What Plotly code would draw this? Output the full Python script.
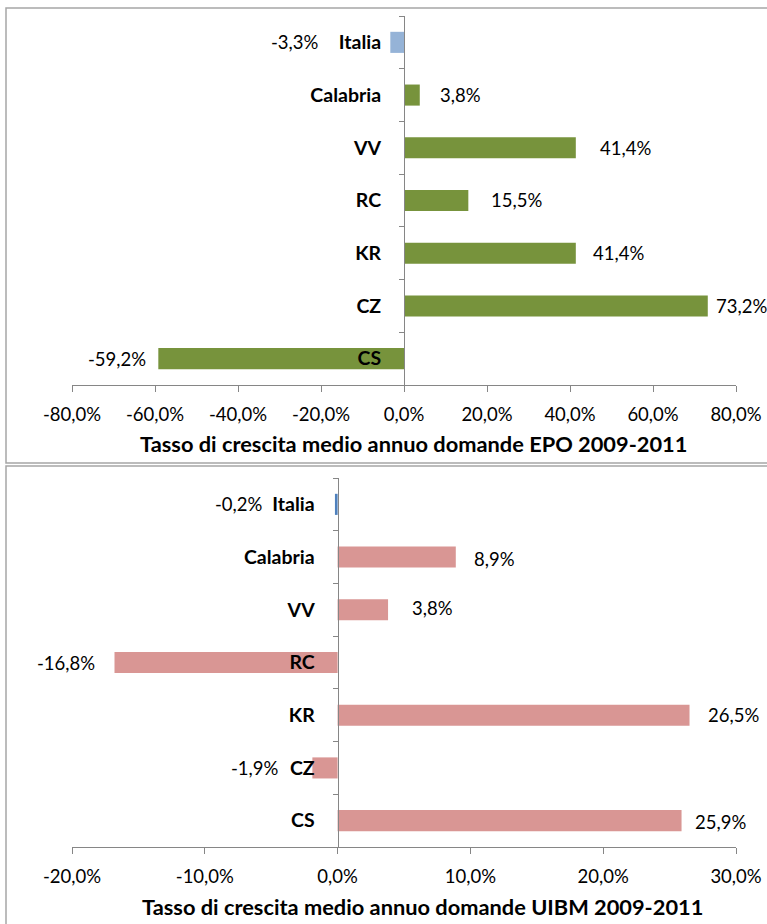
import plotly.graph_objects as go

# ---------------- data ----------------
categories = ["Italia", "Calabria", "VV", "RC", "KR", "CZ", "CS"]
epo_values = [-3.3, 3.8, 41.4, 15.5, 41.4, 73.2, -59.2]
uibm_values = [-0.2, 8.9, 3.8, -16.8, 26.5, -1.9, 25.9]

epo_tickvals = [-80, -60, -40, -20, 0, 20, 40, 60, 80]
epo_ticktext = ["-80,0%", "-60,0%", "-40,0%", "-20,0%", "0,0%", "20,0%", "40,0%", "60,0%", "80,0%"]
uibm_tickvals = [-20, -10, 0, 10, 20, 30]
uibm_ticktext = ["-20,0%", "-10,0%", "0,0%", "10,0%", "20,0%", "30,0%"]

epo_title = "Tasso di crescita medio annuo domande EPO 2009-2011"
uibm_title = "Tasso di crescita medio annuo domande UIBM 2009-2011"

# ---------------- style ----------------
W, H = 767, 924
FONT = "Lato"
GREEN = "#77933C"
PINK = "#D99694"
BLUE_TOP = "#95B3D7"
BLUE_BOT = "#4F81BD"
AXIS = "#868686"
FRAME = "#A6A6A6"

# per-label horizontal offsets (px) mimicking the manually placed labels
epo_shift = [-69, 18, 22, 21, 15, 6, -10]
uibm_shift = [-70, 16, 22, -18, 16, -31, 11]
uibm_yshift = [0, -2, 2, 0, 0, 0, -1]


def px(x):
    return x / W


def py(y):
    return 1 - y / H


def fmt(v):
    return f"{v:.1f}".replace(".", ",") + "%"


x_dom = [px(72), px(736)]
top_dom = [py(385), py(16)]
bot_dom = [py(847), py(478)]
top_range = [-80, 80]
bot_range = [-20, 30]


def zero_pos(rng):
    return x_dom[0] + (0 - rng[0]) / (rng[1] - rng[0]) * (x_dom[1] - x_dom[0])


fig = go.Figure()

fig.add_trace(go.Bar(
    x=epo_values, y=categories, orientation="h",
    marker=dict(color=[BLUE_TOP] + [GREEN] * (len(categories) - 1), line=dict(width=0)),
    xaxis="x", yaxis="y", showlegend=False, hoverinfo="skip",
))
fig.add_trace(go.Bar(
    x=uibm_values, y=categories, orientation="h",
    marker=dict(color=[BLUE_BOT] + [PINK] * (len(categories) - 1), line=dict(width=0)),
    xaxis="x2", yaxis="y2", showlegend=False, hoverinfo="skip",
))

tickfont = dict(family=FONT, size=18.5, color="#000000")

common_x = dict(
    showgrid=False, zeroline=False, showline=True, linecolor=AXIS, linewidth=1,
    ticks="outside", ticklen=6, tickcolor=AXIS, tickfont=tickfont,
    ticklabelstandoff=7, fixedrange=True, automargin=False,
)
common_y = dict(
    type="category", categoryorder="array", categoryarray=categories,
    range=[len(categories) - 0.5, -0.5],
    showgrid=False, zeroline=False, showline=True, linecolor=AXIS, linewidth=1,
    ticks="outside", ticklen=5, tickcolor=AXIS, tickson="boundaries",
    tickfont=dict(family=FONT, size=19.5, color="#000000", weight="bold"),
    ticklabelstandoff=19, fixedrange=True, automargin=False,
)

fig.update_layout(
    template="none",
    width=W, height=H,
    margin=dict(l=0, r=0, t=0, b=0, autoexpand=False),
    paper_bgcolor="white", plot_bgcolor="rgba(0,0,0,0)",
    bargap=0.6,
    font=dict(family=FONT, color="#000000"),
    xaxis=dict(domain=x_dom, range=top_range, anchor="y",
               tickvals=epo_tickvals, ticktext=epo_ticktext, **common_x),
    yaxis=dict(domain=top_dom, anchor="free", position=zero_pos(top_range), **common_y),
    xaxis2=dict(domain=x_dom, range=bot_range, anchor="y2",
                tickvals=uibm_tickvals, ticktext=uibm_ticktext, **common_x),
    yaxis2=dict(domain=bot_dom, anchor="free", position=zero_pos(bot_range), **common_y),
)

annotations = []
for cat, v, s in zip(categories, epo_values, epo_shift):
    annotations.append(dict(
        x=v, y=cat, xref="x", yref="y", text=fmt(v), showarrow=False,
        xanchor="left" if s > 0 else "right", xshift=s,
        font=dict(family=FONT, size=18.5, color="#000000"),
    ))
for cat, v, s, ys in zip(categories, uibm_values, uibm_shift, uibm_yshift):
    annotations.append(dict(
        x=v, y=cat, xref="x2", yref="y2", text=fmt(v), showarrow=False,
        xanchor="left" if s > 0 else "right", xshift=s, yshift=ys,
        font=dict(family=FONT, size=18.5, color="#000000"),
    ))

# axis titles
annotations.append(dict(
    x=px(413), y=py(443), xref="paper", yref="paper", text=epo_title,
    showarrow=False, xanchor="center", yanchor="middle",
    font=dict(family=FONT, size=21.8, color="#000000", weight="bold"),
))
annotations.append(dict(
    x=px(422), y=py(906), xref="paper", yref="paper", text=uibm_title,
    showarrow=False, xanchor="center", yanchor="middle",
    font=dict(family=FONT, size=21.8, color="#000000", weight="bold"),
))
fig.update_layout(annotations=annotations)

# chart frames
fig.add_shape(type="rect", xref="paper", yref="paper",
              x0=px(6), y0=py(463), x1=px(800), y1=py(8),
              line=dict(color=FRAME, width=1.5), fillcolor="rgba(0,0,0,0)", layer="below")
fig.add_shape(type="rect", xref="paper", yref="paper",
              x0=px(6), y0=py(960), x1=px(800), y1=py(466),
              line=dict(color=FRAME, width=1.5), fillcolor="rgba(0,0,0,0)", layer="below")

fig.write_html(
    "out.html",
    config={"displayModeBar": False, "staticPlot": True},
    post_script="document.body.style.margin='0px';document.body.style.overflow='hidden';",
)
